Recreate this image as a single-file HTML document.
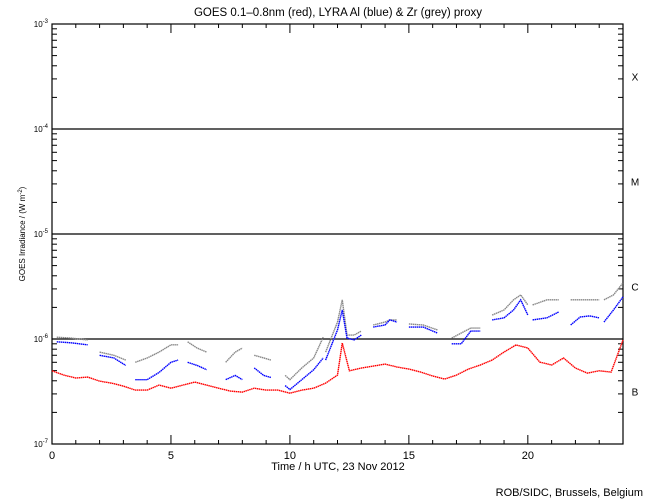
<!DOCTYPE html>
<html><head><meta charset="utf-8"><style>
body{margin:0;background:#fff;}
svg{display:block;font-family:"Liberation Sans",sans-serif;}
</style></head><body>
<svg id="chart" width="650" height="500">
<text x="338" y="16" font-size="11.5" text-anchor="middle">GOES 0.1–0.8nm (red), LYRA Al (blue) &amp; Zr (grey) proxy</text>
<text transform="translate(25,234) rotate(-90)" font-size="8" text-anchor="middle">GOES Irradiance / (W m<tspan dy="-3" font-size="6">-2</tspan><tspan dy="3">)</tspan></text>
<text x="338" y="470" font-size="11" text-anchor="middle">Time / h UTC, 23 Nov 2012</text>
<text x="643" y="496" font-size="11" text-anchor="end">ROB/SIDC, Brussels, Belgium</text>
<g id="axes"></g>
<g id="series"></g>
</svg>
<script>
const xTicks=[0,5,10,15,20];
const yDecades=[-7,-6,-5,-4,-3];
const classLabels=["X","M","C","B"];
const classLevels=[3.16e-4,3.16e-5,3.16e-6,3.16e-7];
const redT=[0,0.5,1,1.5,2,2.5,3,3.5,4,4.5,5,5.5,6,6.5,7,7.5,8,8.5,9,9.5,10,10.5,11,11.5,12,12.2,12.5,13,13.5,14,14.5,15,15.5,16,16.5,17,17.5,18,18.5,19,19.5,20,20.5,21,21.5,22,22.5,23,23.5,24];
const redV=[4.98e-7,4.53e-7,4.25e-7,4.34e-7,3.97e-7,3.8e-7,3.56e-7,3.26e-7,3.26e-7,3.64e-7,3.4e-7,3.64e-7,3.89e-7,3.64e-7,3.4e-7,3.19e-7,3.12e-7,3.4e-7,3.26e-7,3.26e-7,3.05e-7,3.26e-7,3.4e-7,3.8e-7,4.53e-7,9.16e-7,4.98e-7,5.29e-7,5.52e-7,5.77e-7,5.41e-7,5.17e-7,4.84e-7,4.44e-7,4.15e-7,4.53e-7,5.17e-7,5.65e-7,6.3e-7,7.51e-7,8.77e-7,8.2e-7,6.03e-7,5.65e-7,6.59e-7,5.29e-7,4.73e-7,4.98e-7,4.84e-7,9.78e-7];
const blueT=[[0.2,0.8,1.5],[2,2.6,3.1],[3.5,4,4.5,5,5.3],[5.7,6.1,6.5],[7.3,7.7,8],[8.5,8.9,9.2],[9.8,10,10.5,11,11.4],[11.5,12,12.2,12.4,12.7,13],[13.5,14,14.2,14.5],[15,15.6,16.2],[16.8,17.2,17.6,18],[18.5,19,19.4,19.7,20],[20.2,20.8,21.3],[21.8,22.2,22.6,23],[23.2,23.6,24]];
const blueV=[[0.94e-6,0.92e-6,0.88e-6],[0.70e-6,0.66e-6,0.56e-6],[0.41e-6,0.41e-6,0.48e-6,0.60e-6,0.63e-6],[0.60e-6,0.56e-6,0.51e-6],[0.41e-6,0.45e-6,0.41e-6],[0.53e-6,0.45e-6,0.43e-6],[0.36e-6,0.33e-6,0.41e-6,0.51e-6,0.66e-6],[0.63e-6,1.22e-6,1.89e-6,1.02e-6,0.98e-6,1.09e-6],[1.30e-6,1.36e-6,1.52e-6,1.45e-6],[1.30e-6,1.30e-6,1.14e-6],[0.90e-6,0.90e-6,1.19e-6,1.19e-6],[1.52e-6,1.59e-6,1.89e-6,2.36e-6,1.69e-6],[1.52e-6,1.59e-6,1.81e-6],[1.36e-6,1.62e-6,1.66e-6,1.59e-6],[1.45e-6,1.89e-6,2.52e-6]];
const greyT=blueT;
const greyV=[[1.04e-6,1.02e-6,0.98e-6],[0.75e-6,0.70e-6,0.63e-6],[0.60e-6,0.66e-6,0.75e-6,0.88e-6,0.88e-6],[0.94e-6,0.82e-6,0.75e-6],[0.60e-6,0.75e-6,0.82e-6],[0.70e-6,0.66e-6,0.63e-6],[0.45e-6,0.41e-6,0.53e-6,0.66e-6,1.04e-6],[0.75e-6,1.45e-6,2.36e-6,1.09e-6,1.09e-6,1.19e-6],[1.36e-6,1.45e-6,1.52e-6,1.52e-6],[1.39e-6,1.36e-6,1.22e-6],[1.02e-6,1.14e-6,1.27e-6,1.27e-6],[1.69e-6,1.89e-6,2.36e-6,2.63e-6,2.11e-6],[2.11e-6,2.36e-6,2.36e-6],[2.36e-6,2.36e-6,2.36e-6,2.36e-6],[2.36e-6,2.63e-6,3.42e-6]];
const L=52,R=623,T=24,B=444;
function xs(t){return L+(R-L)*t/24;}
function ys(v){return T+(B-T)*(-3-Math.log10(v))/4;}
const NS="http://www.w3.org/2000/svg";
const ax=document.getElementById('axes'),se=document.getElementById('series');
function mk(tag,at,par){const e=document.createElementNS(NS,tag);for(const k in at)e.setAttribute(k,at[k]);par.appendChild(e);return e;}
const fr=mk('rect',{x:L,y:T,width:R-L,height:B-T,fill:'none',stroke:'#000','stroke-width':1.2},ax);


for(let h=0;h<=24;h++){
  const len=(h%5===0)?9:4;
  const tb=mk('line',{x1:xs(h),x2:xs(h),y1:B,y2:B-len,stroke:'#000'},ax);
  
  
  const tt=mk('line',{x1:xs(h),x2:xs(h),y1:T,y2:T+len,stroke:'#000'},ax);
  
  
}
xTicks.forEach(t=>{
  const lb=mk('text',{x:xs(t),y:B+15,'font-size':11,'text-anchor':'middle'},ax);
  lb.textContent=String(t);
  
  
});
yDecades.forEach(d=>{
  const y=ys(Math.pow(10,d));
  if(d>-7&&d<-3){
    const gl=mk('line',{x1:L,x2:R,y1:y,y2:y,stroke:'#000','stroke-width':1.2},ax);
    
    
  }
  const lb=mk('text',{x:L-4,y:y+3,'font-size':8,'text-anchor':'end'},ax);
  lb.innerHTML='10<tspan dy="-4" font-size="6">'+d+'</tspan>';
  
  
  if(d<-3){for(let m=2;m<=9;m++){
    const yy=ys(m*Math.pow(10,d));
    const a=mk('line',{x1:L,x2:L+5,y1:yy,y2:yy,stroke:'#000'},ax);
    
    
    const b=mk('line',{x1:R,x2:R-5,y1:yy,y2:yy,stroke:'#000'},ax);
    
    
  }}
});
classLabels.forEach((c,i)=>{
  const lb=mk('text',{x:635,y:ys(classLevels[i])+4,'font-size':10,'text-anchor':'middle'},ax);
  lb.textContent=c;
  
  
});
function line(ts,vs,col,name){
  const p=mk('polyline',{points:ts.map((t,i)=>xs(t)+','+ys(vs[i])).join(' '),fill:'none',stroke:col,'stroke-width':1.4,'stroke-dasharray':'1.5 0.5'},se);
  
  
}
greyT.forEach((ts,i)=>line(ts,greyV[i],'#888','zr-proxy-series'));
blueT.forEach((ts,i)=>line(ts,blueV[i],'#0000ff','al-proxy-series'));
line(redT,redV,'#ff0000','goes-series');
</script>
</body></html>
